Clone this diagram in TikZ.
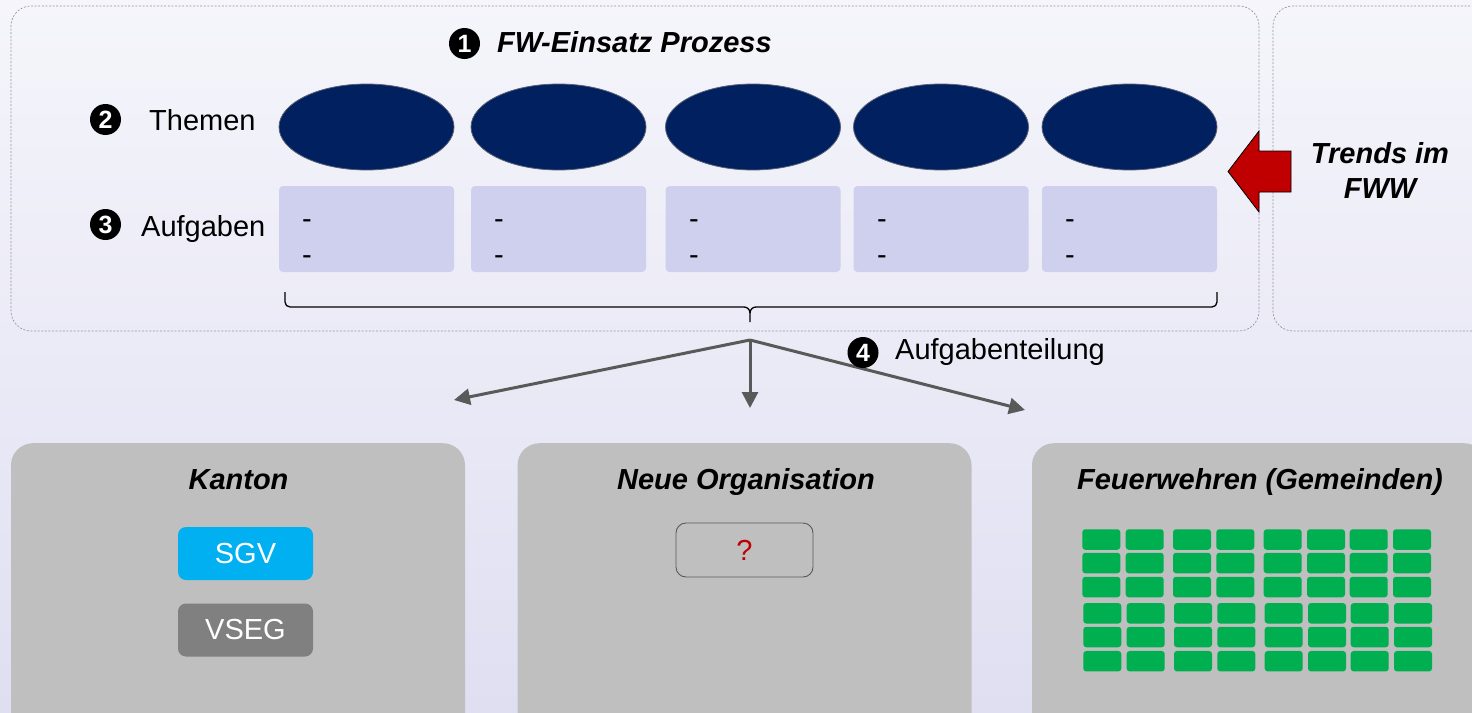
\documentclass[tikz,border=0pt]{standalone}
\usepackage{fontspec}
\setmainfont{Liberation Sans}
\usetikzlibrary{arrows.meta,shapes.geometric}
\definecolor{bgtop}{RGB}{245,245,251}
\definecolor{bgbot}{RGB}{224,223,242}
\definecolor{navy}{RGB}{0,32,96}
\definecolor{ellborder}{RGB}{90,95,115}
\definecolor{taskfill}{RGB}{207,208,237}
\definecolor{dashgray}{RGB}{150,150,155}
\definecolor{boxgray}{RGB}{191,191,191}
\definecolor{sgvblue}{RGB}{0,176,240}
\definecolor{vseggray}{RGB}{128,128,128}
\definecolor{fwgreen}{RGB}{0,176,80}
\definecolor{darkred}{RGB}{192,0,0}
\definecolor{conngray}{RGB}{89,89,89}
\begin{document}
\begin{tikzpicture}[x=1pt,y=-1pt,
  lbl/.style={font=\fontsize{29}{35}\selectfont, inner sep=0pt},
  ttl/.style={font=\fontsize{29}{35}\selectfont\bfseries\itshape, inner sep=0pt},
  num/.style={circle, fill=black, text=white, minimum size=31pt, inner sep=0pt, font=\fontsize{25}{25}\selectfont\bfseries},
  theme/.style={ellipse, fill=navy, draw=ellborder, line width=0.8pt, minimum width=175pt, minimum height=86pt, inner sep=0pt},
  task/.style={rectangle, rounded corners=4pt, fill=taskfill, minimum width=175pt, minimum height=86pt, inner sep=0pt},
  container/.style={draw=dashgray, dash pattern=on 2pt off 1.6pt, line width=0.7pt, rounded corners=20pt, inner sep=0pt},
  bigbox/.style={fill=boxgray, rounded corners=22pt, inner sep=0pt, minimum width=454pt, minimum height=320pt},
  tagbox/.style={rounded corners=8pt, minimum width=135pt, minimum height=53pt, inner sep=0pt, text=white, font=\fontsize{29}{35}\selectfont},
  qbox/.style={draw=conngray, line width=0.9pt, rounded corners=10pt, minimum width=137pt, minimum height=54pt, inner sep=0pt, text=darkred, font=\fontsize{29}{35}\selectfont},
  gbox/.style={fill=fwgreen, rounded corners=3pt, minimum width=38pt, minimum height=20.5pt, inner sep=0pt},
  conn/.style={draw=conngray, line width=3pt, -{Triangle[length=16pt,width=16pt]}},
  bracestyle/.style={draw=black, line width=1.3pt}
]
\useasboundingbox (0,0) rectangle (1472,712);
\clip (0,0) rectangle (1472,712);
\shade[top color=bgtop, bottom color=bgbot] (0,0) rectangle (1472,712);

% containers
\node[container, minimum width=1248pt, minimum height=325pt] (proc) at (635,168.5) {};
\node[container, minimum width=300pt, minimum height=325pt] (trendbox) at (1423,168.5) {};

% headings
\node[num] (n1) at (464.5,43.5) {1};
\node[ttl, anchor=base west] (fwtitle) at (497,52) {FW-Einsatz Prozess};
\node[num] (n2) at (105.5,119.5) {2};
\node[lbl, anchor=base west] (themen) at (149,130) {Themen};
\node[num] (n3) at (105.5,224.5) {3};
\node[lbl, anchor=base west] (aufgaben) at (141,236) {Aufgaben};

% themes and tasks
\foreach \i/\x/\l in {1/366.5/279, 2/558.5/471, 3/753/666, 4/941/854, 5/1129.5/1042} {
  \node[theme] (th\i) at (\x,127) {};
  \node[task] (ta\i) at (\x,229) {};
  \node[lbl, anchor=base west] (da\i) at (\l+23,228) {-};
  \node[lbl, anchor=base west] (db\i) at (\l+23,264) {-};
}

% red arrow
\draw[fill=darkred, draw=black, line width=0.8pt] (1228,171.5) -- (1259,131) -- (1259,151) -- (1291,151) -- (1291,192) -- (1259,192) -- (1259,212) -- cycle;
\node[ttl, anchor=base] (trends) at (1380,163) {\begin{tabular}[t]{@{}c@{}}Trends im\\FWW\end{tabular}};

% brace
\draw[bracestyle] (285,292) -- (285,302) to[out=-90,in=180] (290,307) -- (744,307) to[out=0,in=90] (750,313) -- (750,322);
\draw[bracestyle] (750,313) to[out=90,in=180] (756,307) -- (1212,307) to[out=0,in=-90] (1217,302) -- (1217,292);

% split arrows
\coordinate (apex) at (750,340);
\coordinate (tipL) at (454,400);
\coordinate (tipM) at (750,408);
\coordinate (tipR) at (1025,410);
\draw[conn] (apex) -- (tipL);
\draw[conn] (apex) -- (tipM);
\draw[conn] (apex) -- (tipR);
\node[num] (n4) at (863,352.5) {4};
\node[lbl, anchor=base west] (teilung) at (895,359) {Aufgabenteilung};

% bottom boxes
\node[bigbox, anchor=north] (kanton) at (238,443) {};
\node[bigbox, anchor=north] (neu) at (744.5,443) {};
\node[bigbox, anchor=north] (fw) at (1259,443) {};
\node[ttl, anchor=base] (kantontitle) at (238.5,489) {Kanton};
\node[ttl, anchor=base] (neutitle) at (746,489) {Neue Organisation};
\node[ttl, anchor=base] (fwtitle2) at (1260,489) {Feuerwehren (Gemeinden)};

\node[tagbox, fill=sgvblue] (sgv) at (245.5,553.5) {SGV};
\node[tagbox, fill=vseggray] (vseg) at (245.5,630) {VSEG};
\node[qbox] (q) at (744.5,550) {?};

% green grid
\foreach \r/\y/\dx in {1/539.5/0, 2/563/0, 3/587/0, 4/613.3/1, 5/637/1, 6/661.2/1} {
  \foreach \c/\x in {1/1101.3, 2/1144.7, 3/1192, 4/1235.3, 5/1282.7, 6/1326, 7/1368.7, 8/1412} {
    \node[gbox] (g\r\c) at (\x+\dx,\y) {};
  }
}
\end{tikzpicture}
\end{document}
